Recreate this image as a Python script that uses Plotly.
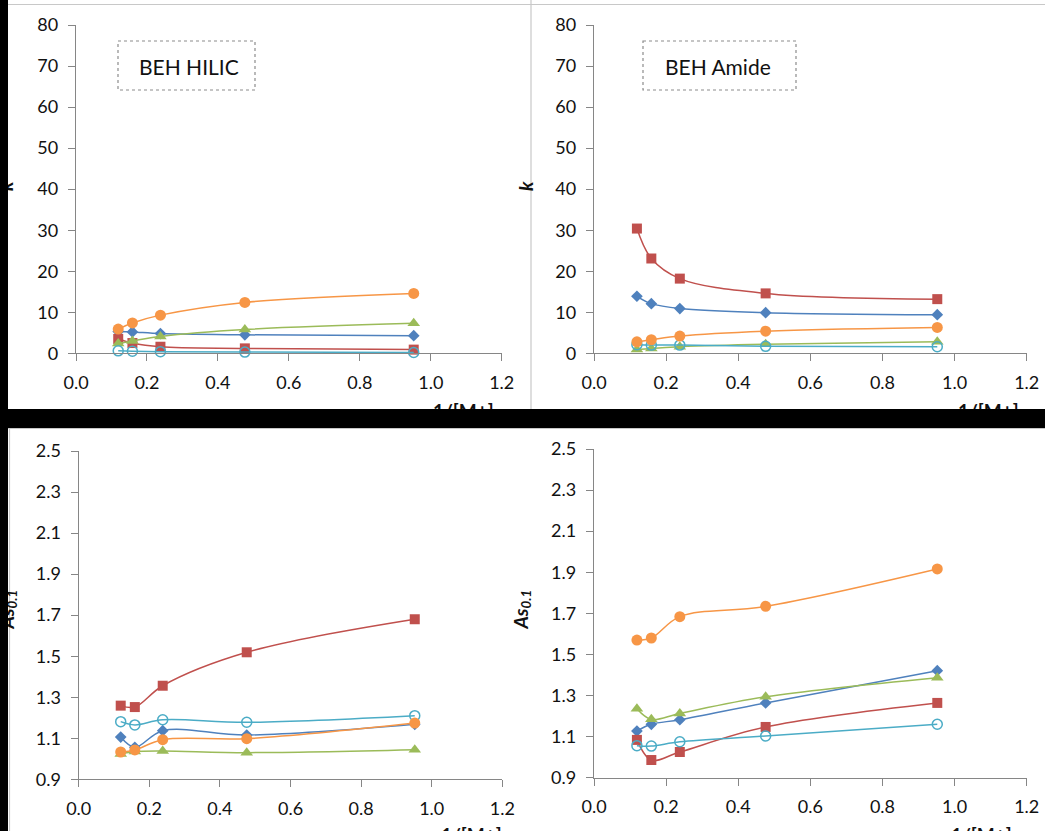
import plotly.graph_objects as go

W, H = 1045, 831

# ---------------- data ----------------
inv_conc = [0.119, 0.159, 0.238, 0.476, 0.952]          # 1/[M+]
series_keys = ["blue", "red", "green", "cyan", "orange"]

hilic_k = {
    "blue":   [5.3, 5.2, 4.8, 4.5, 4.3],
    "red":    [3.5, 2.5, 1.6, 1.2, 0.9],
    "green":  [2.4, 3.0, 4.1, 5.8, 7.3],
    "cyan":   [0.6, 0.5, 0.4, 0.3, 0.2],
    "orange": [5.9, 7.4, 9.3, 12.4, 14.6],
}
amide_k = {
    "blue":   [13.9, 12.1, 10.9, 9.9, 9.4],
    "red":    [30.4, 23.1, 18.2, 14.6, 13.2],
    "green":  [0.9, 1.2, 1.6, 2.2, 2.8],
    "cyan":   [2.1, 2.0, 2.0, 1.7, 1.6],
    "orange": [2.8, 3.3, 4.2, 5.4, 6.3],
}
hilic_as = {
    "blue":   [1.106, 1.056, 1.137, 1.116, 1.168],
    "red":    [1.259, 1.252, 1.356, 1.519, 1.680],
    "green":  [1.023, 1.035, 1.038, 1.030, 1.044],
    "cyan":   [1.181, 1.165, 1.190, 1.178, 1.210],
    "orange": [1.033, 1.043, 1.093, 1.098, 1.174],
}
amide_as = {
    "blue":   [1.127, 1.160, 1.182, 1.264, 1.421],
    "red":    [1.084, 0.986, 1.025, 1.147, 1.264],
    "green":  [1.236, 1.184, 1.213, 1.294, 1.387],
    "cyan":   [1.056, 1.054, 1.075, 1.103, 1.160],
    "orange": [1.570, 1.580, 1.684, 1.734, 1.916],
}

x_ticks = [0.0, 0.2, 0.4, 0.6, 0.8, 1.0, 1.2]
k_ticks = [0, 10, 20, 30, 40, 50, 60, 70, 80]
as_ticks = [0.9, 1.1, 1.3, 1.5, 1.7, 1.9, 2.1, 2.3, 2.5]

panel_labels = ["BEH HILIC", "BEH Amide"]
x_title = "1/[M+]"
k_title = "<b><i>k</i></b>"
as_title = "<b><i>As<sub>0.1</sub></i></b>"

# ---------------- styles ----------------
FONT = "Lato"
TXT = "#111111"
AX = "#868686"
style = {
    "blue":   dict(color="#4F81BD", symbol="diamond", size=9),
    "red":    dict(color="#C0504D", symbol="square", size=10),
    "green":  dict(color="#9BBB59", symbol="triangle-up", size=11),
    "cyan":   dict(color="#4BACC6", symbol="circle-open", size=10),
    "orange": dict(color="#F79646", symbol="circle", size=11),
}

fig = go.Figure()

panels = [
    # data, xaxis id, yaxis id, x0px, x1px, ybot px, ytop px, yticks
    (hilic_k, "x", "y", 76, 501.7, 353.3, 25, k_ticks),
    (amide_k, "x2", "y2", 594, 1026.7, 353.3, 25, k_ticks),
    (hilic_as, "x3", "y3", 78.7, 502.3, 779.3, 451, as_ticks),
    (amide_as, "x4", "y4", 594, 1026.7, 777.7, 449, as_ticks),
]

axis_common = dict(
    showline=True, linecolor=AX, linewidth=1.3,
    ticks="outside", ticklen=7, tickwidth=1.3, tickcolor=AX,
    showgrid=False, zeroline=False, automargin=False,
    tickfont=dict(family=FONT, size=18, color=TXT),
)

layout_axes = {}
for data, xa, ya, x0, x1, yb, yt, yt_vals in panels:
    for key in series_keys:
        st = style[key]
        fig.add_trace(go.Scatter(
            x=inv_conc, y=data[key], xaxis=xa, yaxis=ya,
            mode="lines+markers", cliponaxis=False, showlegend=False,
            line=dict(color=st["color"], width=1.5, shape="spline", smoothing=1.0),
            marker=dict(symbol=st["symbol"], size=st["size"], color=st["color"],
                        line=dict(width=1.5 if "open" in st["symbol"] else 0, color=st["color"])),
        ))
    xname = "xaxis" + xa[1:]
    yname = "yaxis" + ya[1:]
    layout_axes[xname] = dict(
        axis_common, domain=[x0 / W, x1 / W], anchor=ya,
        range=[x_ticks[0], x_ticks[-1]], tickvals=x_ticks,
        ticktext=[f"{v:.1f}" for v in x_ticks], ticklabelstandoff=6,
    )
    is_k = yt_vals is k_ticks
    layout_axes[yname] = dict(
        axis_common, domain=[1 - yb / H, 1 - yt / H], anchor=xa,
        range=[yt_vals[0], yt_vals[-1]], tickvals=yt_vals,
        ticktext=[str(v) if is_k else f"{v:.1f}" for v in yt_vals],
        ticklabelstandoff=6,
    )

fig.update_layout(**layout_axes)


def px(x):
    return x / W


def py(y):
    return 1 - y / H


annotations = []
shapes = []

# panel frame lines (light gray)
GR = "#c8c8c8"
shapes += [
    dict(type="line", xref="paper", yref="paper", x0=px(8), x1=px(1045), y0=py(4.5), y1=py(4.5),
         line=dict(color=GR, width=1.2)),
    dict(type="line", xref="paper", yref="paper", x0=px(531), x1=px(531), y0=py(0), y1=py(409),
         line=dict(color=GR, width=1.2)),
    dict(type="line", xref="paper", yref="paper", x0=px(8), x1=px(1045), y0=py(428.5), y1=py(428.5),
         line=dict(color=GR, width=1.2)),
    dict(type="line", xref="paper", yref="paper", x0=px(9.5), x1=px(9.5), y0=py(428), y1=py(831),
         line=dict(color=GR, width=1.2)),
]

# dotted label boxes
for (bx0, bx1) in [(118, 255), (643, 796)]:
    shapes.append(dict(type="rect", xref="paper", yref="paper",
                       x0=px(bx0), x1=px(bx1), y0=py(41), y1=py(90),
                       line=dict(color="#8c8c8c", width=1.2, dash="dot"),
                       fillcolor="rgba(0,0,0,0)", layer="above"))
for lbl, lx in zip(panel_labels, [137, 663]):
    annotations.append(dict(text=lbl, xref="paper", yref="paper", x=px(lx), y=py(66),
                            xanchor="left", yanchor="middle", showarrow=False,
                            font=dict(family=FONT, size=21, color=TXT)))

# y-axis titles (rotated)
for t, cx, cy in [(k_title, 6, 186), (k_title, 526, 186),
                  (as_title, 7.5, 610), (as_title, 521.5, 610)]:
    annotations.append(dict(text=t, xref="paper", yref="paper", x=px(cx), y=py(cy),
                            xanchor="center", yanchor="middle", textangle=-90, showarrow=False,
                            font=dict(family=FONT, size=19, color=TXT)))

# x-axis titles (mostly cropped)
for cx, cy in [(463, 411), (988, 411), (471, 835), (981, 835)]:
    annotations.append(dict(text="<b>" + x_title + "</b>", xref="paper", yref="paper",
                            x=px(cx), y=py(cy), xanchor="center", yanchor="middle",
                            showarrow=False, font=dict(family=FONT, size=19, color=TXT)))

# black crop bands drawn last so they cover the cut titles
for bx, by, bw, bh in [(0, 0, 8, 831), (0, 409, 1045, 19)]:
    annotations.append(dict(text=" ", xref="paper", yref="paper", x=px(bx), y=py(by),
                            xanchor="left", yanchor="top", width=bw, height=bh,
                            bgcolor="black", borderpad=0, borderwidth=0, showarrow=False,
                            font=dict(size=1)))

fig.update_layout(
    width=W, height=H, margin=dict(l=0, r=0, t=0, b=0, autoexpand=False),
    paper_bgcolor="white", plot_bgcolor="white",
    annotations=annotations, shapes=shapes, showlegend=False,
)

fig.write_html("out.html")
